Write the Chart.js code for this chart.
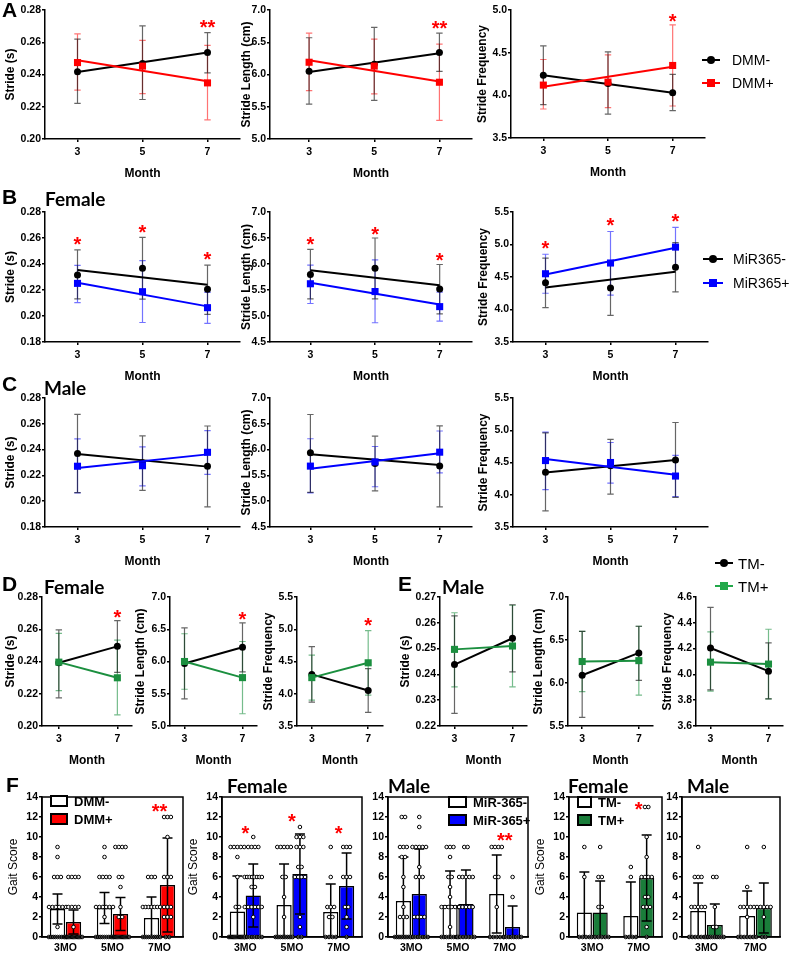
<!DOCTYPE html>
<html>
<head>
<meta charset="utf-8">
<script src="https://cdn.jsdelivr.net/npm/chart.js@4.4.1/dist/chart.umd.min.js"></script>
<style>
  body { margin: 0; width: 791px; height: 953px; position: relative; overflow: hidden; background: #fff;
         font-family: "Liberation Sans", Arial, sans-serif; color: #000; }
  canvas { position: absolute; }
  .t { position: absolute; transform: translateY(-50%); white-space: nowrap; line-height: 1; }
  .letter { font-weight: bold; font-size: 21px; }
  .grp { font-family: Lato, "Open Sans", sans-serif; font-weight: bold; font-size: 19px; }
  .mk { position: absolute; }
</style>
</head>
<body>
<script>
// ---------- data ----------
const MONTHS3 = [3, 5, 7];
const MONTHS2 = [3, 7];
const FIT_X = [3, 7];
const BAR_LABELS3 = ['3MO', '5MO', '7MO'];
const BAR_LABELS2 = ['3MO', '7MO'];

// A: DMM- / DMM+
const aStrideNeg = { mean: [0.2417, 0.2468, 0.2536], lo: [0.2221, 0.2245, 0.2410], hi: [0.2619, 0.2701, 0.2660], fit: [0.2415, 0.2537] };
const aStridePos = { mean: [0.2474, 0.2452, 0.2348], lo: [0.2303, 0.2282, 0.2118], hi: [0.2652, 0.2612, 0.2581], fit: [0.2489, 0.2358] };
const aLengthNeg = { mean: [6.05, 6.16, 6.34], lo: [5.54, 5.60, 6.05], hi: [6.57, 6.73, 6.64], fit: [6.04, 6.33] };
const aLengthPos = { mean: [6.19, 6.13, 5.88], lo: [5.75, 5.70, 5.29], hi: [6.64, 6.55, 6.47], fit: [6.22, 5.89] };
const aFreqNeg = { mean: [4.236, 4.14, 4.03], lo: [3.89, 3.78, 3.82], hi: [4.58, 4.51, 4.245], fit: [4.235, 4.03] };
const aFreqPos = { mean: [4.12, 4.155, 4.35], lo: [3.84, 3.855, 3.875], hi: [4.42, 4.475, 4.825], fit: [4.10, 4.335] };
const aStars = [[{ x: 7, y: 0.2715, t: '**' }], [{ x: 7, y: 6.78, t: '**' }], [{ x: 7, y: 4.91, t: '*' }]];

// B: female MiR365- / MiR365+
const bStrideNeg = { mean: [0.2315, 0.2367, 0.2205], lo: [0.2131, 0.2130, 0.2013], hi: [0.2508, 0.2605, 0.2392], fit: [0.2354, 0.2240] };
const bStridePos = { mean: [0.2251, 0.2187, 0.2064], lo: [0.2103, 0.1950, 0.1944], hi: [0.2390, 0.2426, 0.2182], fit: [0.2256, 0.2074] };
const bLengthNeg = { mean: [5.80, 5.92, 5.52], lo: [5.33, 5.33, 5.04], hi: [6.28, 6.50, 5.99], fit: [5.88, 5.59] };
const bLengthPos = { mean: [5.62, 5.47, 5.18], lo: [5.24, 4.87, 4.90], hi: [5.98, 6.08, 5.46], fit: [5.64, 5.22] };
const bFreqNeg = { mean: [4.41, 4.33, 4.65], lo: [4.03, 3.91, 4.27], hi: [4.79, 4.75, 5.03], fit: [4.34, 4.58] };
const bFreqPos = { mean: [4.55, 4.715, 4.96], lo: [4.25, 4.22, 4.65], hi: [4.85, 5.20, 5.265], fit: [4.54, 4.95] };
const bStars = [
  [{ x: 3, y: 0.2582, t: '*' }, { x: 5, y: 0.2672, t: '*' }, { x: 7, y: 0.2464, t: '*' }],
  [{ x: 3, y: 6.45, t: '*' }, { x: 5, y: 6.65, t: '*' }, { x: 7, y: 6.15, t: '*' }],
  [{ x: 3, y: 5.005, t: '*' }, { x: 5, y: 5.36, t: '*' }, { x: 7, y: 5.42, t: '*' }]
];

// C: male MiR365- / MiR365+
const cStrideNeg = { mean: [0.2369, 0.2299, 0.2270], lo: [0.2067, 0.2084, 0.1956], hi: [0.2673, 0.2506, 0.2583], fit: [0.2365, 0.2268] };
const cStridePos = { mean: [0.2271, 0.2275, 0.2379], lo: [0.2064, 0.2119, 0.2208], hi: [0.2483, 0.2421, 0.2547], fit: [0.2258, 0.2363] };
const cLengthNeg = { mean: [5.94, 5.73, 5.68], lo: [5.17, 5.20, 4.89], hi: [6.68, 6.26, 6.46], fit: [5.91, 5.70] };
const cLengthPos = { mean: [5.68, 5.76, 5.95], lo: [5.16, 5.28, 5.55], hi: [6.21, 6.06, 6.36], fit: [5.63, 5.93] };
const cFreqNeg = { mean: [4.35, 4.45, 4.54], lo: [3.75, 4.01, 3.96], hi: [4.96, 4.86, 5.12], fit: [4.345, 4.54] };
const cFreqPos = { mean: [4.53, 4.50, 4.29], lo: [4.08, 4.18, 3.97], hi: [4.97, 4.81, 4.61], fit: [4.555, 4.31] };

// D: female TM- / TM+
const dStrideNeg = { mean: [0.2392, 0.2494], lo: [0.2175, 0.2332], hi: [0.2596, 0.2654] };
const dStridePos = { mean: [0.2396, 0.2299], lo: [0.2220, 0.2069], hi: [0.2574, 0.2533] };
const dLengthNeg = { mean: [5.97, 6.22], lo: [5.42, 5.84], hi: [6.52, 6.60] };
const dLengthPos = { mean: [6.00, 5.75], lo: [5.57, 5.19], hi: [6.43, 6.31] };
const dFreqNeg = { mean: [4.30, 4.05], lo: [3.87, 3.71], hi: [4.73, 4.39] };
const dFreqPos = { mean: [4.25, 4.48], lo: [3.90, 3.98], hi: [4.60, 4.98] };
const dStars = [[{ x: 7, y: 0.2697, t: '*' }], [{ x: 7, y: 6.72, t: '*' }], [{ x: 7, y: 5.12, t: '*' }]];

// E: male TM- / TM+
const eStrideNeg = { mean: [0.2438, 0.2540], lo: [0.2249, 0.2410], hi: [0.2627, 0.2670] };
const eStridePos = { mean: [0.2497, 0.2510], lo: [0.2352, 0.2352], hi: [0.2639, 0.2668] };
const eLengthNeg = { mean: [6.09, 6.35], lo: [5.60, 6.03], hi: [6.60, 6.66] };
const eLengthPos = { mean: [6.25, 6.26], lo: [5.90, 5.86], hi: [6.60, 6.66] };
const eFreqNeg = { mean: [4.205, 4.025], lo: [3.88, 3.81], hi: [4.52, 4.245] };
const eFreqPos = { mean: [4.095, 4.08], lo: [3.87, 3.81], hi: [4.33, 4.35] };

// F: gait score (mean, SD, individual animals)
const fDmmNeg = { mean: [2.8, 2.9, 1.9], sd: [1.5, 1.55, 2.1], dots: [
  [9, 8, 6, 6, 6, 3, 3, 3, 3, 3, 3, 1, 0, 0, 0, 0, 0, 0, 0, 0, 0],
  [9, 8, 6, 6, 6, 6, 3, 3, 3, 3, 3, 3, 2, 0, 0, 0, 0, 0, 0, 0, 0, 0],
  [6, 6, 6, 3, 3, 3, 3, 3, 3, 3, 0, 0, 0, 0, 0, 0, 0, 0, 0, 0]] };
const fDmmPos = { mean: [1.5, 2.3, 5.2], sd: [1.2, 1.65, 4.7], dots: [
  [6, 6, 6, 6, 3, 3, 3, 3, 1, 0, 0, 0, 0, 0, 0, 0, 0, 0, 0, 0, 0, 0, 0, 0],
  [9, 9, 9, 9, 6, 6, 5, 3, 2, 2, 0, 0, 0, 0, 0, 0, 0, 0, 0, 0, 0, 0, 0, 0, 0, 0],
  [12, 12, 12, 10, 6, 6, 6, 3, 3, 3, 2, 2, 2, 0, 0]] };
const fMirFNeg = { mean: [2.55, 3.2, 2.5], sd: [3.55, 4.1, 2.8], dots: [
  [9, 9, 9, 9, 9, 8, 6, 3, 3, 0, 0, 0, 0, 0, 0, 0, 0, 0, 0, 0, 0, 0, 0, 0, 0],
  [9, 9, 9, 9, 9, 6, 6, 4, 2, 0, 0, 0, 0, 0, 0, 0, 0, 0, 0, 0],
  [9, 6, 3, 3, 3, 2, 2, 0, 0, 0, 0]] };
const fMirFPos = { mean: [4.15, 6.3, 5.1], sd: [3.15, 4.0, 3.3], dots: [
  [10, 9, 9, 9, 9, 6, 6, 6, 6, 6, 6, 6, 6, 5, 5, 3, 3, 3, 3, 3, 3, 2, 0, 0, 0, 0, 0, 0, 0, 0],
  [11, 10, 10, 10, 9, 9, 9, 7, 7, 6, 6, 6, 6, 2, 1, 0, 0],
  [9, 9, 9, 6, 6, 6, 3, 3, 2, 1, 0]] };
const fMirMNeg = { mean: [3.6, 3.2, 4.3], sd: [4.4, 3.4, 3.9], dots: [
  [12, 12, 9, 9, 9, 8, 8, 6, 5, 3, 2, 2, 2, 0, 0, 0, 0, 0, 0, 0, 0, 0, 0, 0],
  [9, 9, 9, 8, 6, 6, 5, 4, 3, 3, 3, 3, 3, 3, 1, 0, 0, 0, 0, 0, 0, 0, 0],
  [9, 9, 9, 9, 6, 6, 3, 0, 0, 0, 0, 0]] };
const fMirMPos = { mean: [4.3, 3.3, 1.0], sd: [4.5, 3.4, 2.1], dots: [
  [12, 11, 9, 9, 9, 9, 9, 7, 6, 6, 6, 2, 2, 2, 2, 0, 0, 0, 0, 0, 0, 0, 0],
  [9, 9, 6, 6, 6, 6, 6, 3, 3, 3, 3, 3, 0, 0, 0, 0, 0, 0, 0],
  [6, 4, 0, 0, 0, 0, 0, 0, 0, 0]] };
const fTmFNeg = { mean: [2.45, 2.1], sd: [4.05, 3.4], dots: [
  [9, 6, 0, 0, 0, 0],
  [7, 6, 0, 0, 0, 0]] };
const fTmFPos = { mean: [2.45, 5.9], sd: [3.15, 4.3], dots: [
  [9, 6, 6, 3, 3, 0, 0, 0, 0, 0, 0],
  [13, 13, 10, 8, 6, 6, 6, 6, 4, 4, 3, 3, 3, 1, 0]] };
const fTmMNeg = { mean: [2.6, 2.1], sd: [2.8, 2.5], dots: [
  [9, 6, 6, 6, 3, 3, 3, 3, 3, 0, 0, 0, 0, 0, 0, 0],
  [9, 5, 3, 3, 3, 3, 3, 2, 0, 0, 0, 0, 0, 0, 0]] };
const fTmMPos = { mean: [1.2, 2.9], sd: [2.1, 2.5], dots: [
  [6, 6, 3, 1, 1, 0, 0, 0, 0, 0, 0, 0, 0, 0],
  [9, 3, 3, 3, 3, 3, 2, 0, 0]] };
const fStars = [
  [{ x: 2, y: 13.0, t: '**' }],
  [{ x: 0, y: 10.8, t: '*' }, { x: 1, y: 12.0, t: '*' }, { x: 2, y: 10.8, t: '*' }],
  [{ x: 2, y: 10.1, t: '**' }],
  [{ x: 1, y: 13.2, t: '*' }],
  []
];

// ---------- styling ----------
const RED = '#ff0000', BLUE = '#0000ff', GREEN = '#1b8f3f', GREEN_BAR = '#1a7d3a', BLACK = '#000000';
const ERR_COLORS = { [RED]: 'rgba(255,0,0,0.55)', [BLUE]: 'rgba(0,0,255,0.55)', [GREEN]: 'rgba(27,143,63,0.6)', [BLACK]: 'rgba(0,0,0,0.6)' };
const FAMILY = '"Liberation Sans", Arial, sans-serif';
const tickFont = { family: FAMILY, size: 10.5, weight: 'bold' };
const titleFont = { family: FAMILY, size: 12, weight: 'bold' };
Chart.defaults.font.family = FAMILY;
Chart.defaults.color = '#000';

// ---------- plugins ----------
function drawErr(chart, opts) {
  const ctx = chart.ctx, ys = chart.scales.y;
  chart.data.datasets.forEach((ds, di) => {
    if (!ds.errHi) return;
    ctx.save();
    ctx.strokeStyle = ds.errColor || '#000';
    ctx.lineWidth = opts.width;
    chart.getDatasetMeta(di).data.forEach((el, i) => {
      const x = el.x;
      const yl = ys.getPixelForValue(ds.errLo[i]);
      const yh = ys.getPixelForValue(ds.errHi[i]);
      ctx.beginPath();
      ctx.moveTo(x, yl); ctx.lineTo(x, yh);
      ctx.moveTo(x - opts.cap, yh); ctx.lineTo(x + opts.cap, yh);
      if (ds.errLo[i] > ys.min) { ctx.moveTo(x - opts.cap, yl); ctx.lineTo(x + opts.cap, yl); }
      ctx.stroke();
    });
    ctx.restore();
  });
}
const errBarsPlugin = {
  id: 'errBars',
  beforeDatasetsDraw(chart, args, opts) { if (!opts.after) drawErr(chart, opts); },
  afterDatasetsDraw(chart, args, opts) { if (opts.after) drawErr(chart, opts); }
};

// individual animals, spread sideways where several share a score
const dotsPlugin = {
  id: 'dots',
  afterDatasetsDraw(chart) {
    const ctx = chart.ctx, ys = chart.scales.y;
    chart.data.datasets.forEach((ds, di) => {
      if (!ds.dots) return;
      chart.getDatasetMeta(di).data.forEach((bar, i) => {
        const counts = {};
        ds.dots[i].forEach(v => { counts[v] = (counts[v] || 0) + 1; });
        Object.keys(counts).forEach(k => {
          const n = counts[k];
          const span = Math.min((n - 1) * 3.4, bar.width + 2);
          const step = n > 1 ? span / (n - 1) : 0;
          const py = ys.getPixelForValue(+k);
          for (let j = 0; j < n; j++) {
            ctx.beginPath();
            ctx.arc(bar.x - span / 2 + j * step, py, 1.8, 0, Math.PI * 2);
            ctx.fillStyle = '#fff';
            ctx.fill();
            ctx.lineWidth = 1;
            ctx.strokeStyle = '#000';
            ctx.stroke();
          }
        });
      });
    });
  }
};

const starsPlugin = {
  id: 'stars',
  afterDatasetsDraw(chart, args, opts) {
    const ctx = chart.ctx;
    ctx.save();
    ctx.fillStyle = RED;
    ctx.font = 'bold 20px ' + FAMILY;
    ctx.textAlign = 'center';
    ctx.textBaseline = 'middle';
    (opts.list || []).forEach(s => {
      ctx.fillText(s.t, chart.scales.x.getPixelForValue(s.x), chart.scales.y.getPixelForValue(s.y) + 5);
    });
    ctx.restore();
  }
};

const framePlugin = {
  id: 'frame',
  afterDraw(chart) {
    const a = chart.chartArea, ctx = chart.ctx;
    ctx.save();
    ctx.strokeStyle = '#000';
    ctx.lineWidth = 1.5;
    ctx.strokeRect(a.left, a.top, a.right - a.left, a.bottom - a.top);
    ctx.restore();
  }
};

// ---------- helpers ----------
function place(left, top, w, h) {
  const c = document.createElement('canvas');
  c.width = w; c.height = h;
  c.style.left = left + 'px'; c.style.top = top + 'px';
  c.style.width = w + 'px'; c.style.height = h + 'px';
  document.body.appendChild(c);
  return c;
}

function text(x, y, s, cls, style) {
  const d = document.createElement('div');
  d.className = 't ' + (cls || '');
  d.style.left = x + 'px'; d.style.top = y + 'px';
  if (style) d.style.cssText += style;
  d.textContent = s;
  document.body.appendChild(d);
}

function mark(x, y, w, h, style) {
  const d = document.createElement('div');
  d.className = 'mk';
  d.style.cssText = `left:${x}px;top:${y}px;width:${w}px;height:${h}px;` + style;
  document.body.appendChild(d);
}

// line-with-marker legend entry
function lineLegend(x1, x2, y, color, shape, label, textX, size) {
  mark(x1, y - 1, x2 - x1, 2, `background:${color}`);
  const cx = (x1 + x2) / 2;
  mark(cx - 4, y - 4, 8, 8, `background:${color};` + (shape === 'circle' ? 'border-radius:50%' : ''));
  text(textX, y, label, '', `font-size:${size}px`);
}

// filled-box legend entry for the bar panels
function boxLegend(x, y, w, fill, label, textX) {
  mark(x, y - 6, w, 12, `box-sizing:border-box;border:2px solid #000;background:${fill}`);
  text(textX, y, label, '', 'font-size:13px;font-weight:bold');
}

function pair(neg, pos, months, color) {
  const sets = [];
  [[pos, color, 'rect', 5], [neg, BLACK, 'circle', 3.5]].forEach(([s, col, style, r]) => {
    if (s.fit) {
      sets.push({ data: FIT_X.map((m, i) => ({ x: m, y: s.fit[i] })), borderColor: col, borderWidth: 2, pointRadius: 0 });
    }
    sets.push({
      data: months.map((m, i) => ({ x: m, y: s.mean[i] })),
      showLine: !s.fit, borderColor: col, borderWidth: 2,
      pointStyle: style, pointRadius: r, pointBackgroundColor: col, pointBorderWidth: 0,
      errLo: s.lo, errHi: s.hi, errColor: ERR_COLORS[col]
    });
  });
  return sets;
}

const axisGrid = { display: true, drawOnChartArea: false, drawTicks: true, tickLength: 3, color: '#000', lineWidth: 1.5 };
const axisBorder = { display: true, color: '#000', width: 1.5 };

function lineChart(p) {
  const L = p.titleX - 10, T = p.top - 8, xH = 46;
  const W = p.right - L + 8, H = p.bottom - T + xH;
  new Chart(place(L, T, W, H), {
    type: 'line',
    data: { datasets: p.datasets },
    options: {
      responsive: false, animation: false, events: [],
      layout: { padding: { top: 8, right: 8, left: 0, bottom: 0 } },
      plugins: {
        legend: { display: false }, tooltip: { enabled: false },
        errBars: { cap: 3.2, width: 1.2, after: false },
        stars: { list: p.stars || [] }
      },
      scales: {
        x: {
          type: 'linear', min: p.xMin, max: p.xMax,
          afterBuildTicks: s => { s.ticks = p.months.map(v => ({ value: v })); },
          afterFit: s => { s.height = xH; },
          ticks: { font: tickFont, color: '#000', padding: 4 },
          grid: axisGrid, border: axisBorder,
          title: { display: true, text: 'Month', font: titleFont, color: '#000', padding: { top: 0, bottom: 4 } }
        },
        y: {
          min: p.yMin, max: p.yMax,
          afterFit: s => { s.width = p.axisX - L; },
          ticks: { stepSize: p.step, callback: v => v.toFixed(p.dec), font: tickFont, color: '#000', padding: 1 },
          grid: axisGrid, border: axisBorder,
          title: { display: true, text: p.yTitle, font: titleFont, color: '#000', padding: { top: 3, bottom: 0 } }
        }
      }
    },
    plugins: [errBarsPlugin, starsPlugin]
  });
}

function barSet(s, fill) {
  return {
    data: s.mean, backgroundColor: fill, borderColor: '#000', borderWidth: 1.5,
    categoryPercentage: 0.68, barPercentage: 0.96,
    errLo: s.mean.map((m, i) => Math.max(0, m - s.sd[i])),
    errHi: s.mean.map((m, i) => m + s.sd[i]),
    errColor: '#000', dots: s.dots
  };
}

function barChart(p) {
  const L = p.axisX - p.yW, T = p.top - 8, xH = 16;
  const W = p.right - L + 4, H = p.bottom - T + xH;
  new Chart(place(L, T, W, H), {
    type: 'bar',
    data: { labels: p.labels, datasets: [barSet(p.neg, '#fff'), barSet(p.pos, p.color)] },
    options: {
      responsive: false, animation: false, events: [],
      layout: { padding: { top: 8, right: 4, left: 0, bottom: 0 } },
      plugins: {
        legend: { display: false }, tooltip: { enabled: false },
        errBars: { cap: 5, width: 1.5, after: true },
        stars: { list: p.stars }
      },
      scales: {
        x: {
          afterFit: s => { s.height = xH; },
          grid: { display: false, drawTicks: false }, border: axisBorder,
          ticks: { font: tickFont, color: '#000', padding: 5 }
        },
        y: {
          min: 0, max: 14,
          afterFit: s => { s.width = p.yW; },
          ticks: { stepSize: 2, font: tickFont, color: '#000', padding: 1 },
          grid: axisGrid, border: axisBorder,
          title: { display: !!p.yTitle, text: p.yTitle || '', font: { family: FAMILY, size: 12 }, color: '#000', padding: { top: 3, bottom: 0 } }
        }
      }
    },
    plugins: [errBarsPlugin, dotsPlugin, starsPlugin, framePlugin]
  });
}

// ---------- row A ----------
lineChart({ axisX: 45, right: 240, top: 10, bottom: 139, titleX: 10, xMin: 2, xMax: 8, yMin: 0.20, yMax: 0.28, step: 0.02, dec: 2,
  yTitle: 'Stride (s)', months: MONTHS3, datasets: pair(aStrideNeg, aStridePos, MONTHS3, RED), stars: aStars[0] });
lineChart({ axisX: 270, right: 472, top: 10, bottom: 139, titleX: 246, xMin: 1.8, xMax: 8, yMin: 5.0, yMax: 7.0, step: 0.5, dec: 1,
  yTitle: 'Stride Length (cm)', months: MONTHS3, datasets: pair(aLengthNeg, aLengthPos, MONTHS3, RED), stars: aStars[1] });
lineChart({ axisX: 511, right: 705, top: 10, bottom: 138, titleX: 482, xMin: 2, xMax: 8, yMin: 3.5, yMax: 5.0, step: 0.5, dec: 1,
  yTitle: 'Stride Frequency', months: MONTHS3, datasets: pair(aFreqNeg, aFreqPos, MONTHS3, RED), stars: aStars[2] });

// ---------- row B ----------
lineChart({ axisX: 45, right: 240, top: 212, bottom: 342, titleX: 10, xMin: 2, xMax: 8, yMin: 0.18, yMax: 0.28, step: 0.02, dec: 2,
  yTitle: 'Stride (s)', months: MONTHS3, datasets: pair(bStrideNeg, bStridePos, MONTHS3, BLUE), stars: bStars[0] });
lineChart({ axisX: 270, right: 472, top: 212, bottom: 342, titleX: 246, xMin: 1.75, xMax: 8, yMin: 4.5, yMax: 7.0, step: 0.5, dec: 1,
  yTitle: 'Stride Length (cm)', months: MONTHS3, datasets: pair(bLengthNeg, bLengthPos, MONTHS3, BLUE), stars: bStars[1] });
lineChart({ axisX: 513, right: 708, top: 212, bottom: 342, titleX: 483, xMin: 2, xMax: 8, yMin: 3.5, yMax: 5.5, step: 0.5, dec: 1,
  yTitle: 'Stride Frequency', months: MONTHS3, datasets: pair(bFreqNeg, bFreqPos, MONTHS3, BLUE), stars: bStars[2] });

// ---------- row C ----------
lineChart({ axisX: 45, right: 240, top: 398, bottom: 527, titleX: 10, xMin: 2, xMax: 8, yMin: 0.18, yMax: 0.28, step: 0.02, dec: 2,
  yTitle: 'Stride (s)', months: MONTHS3, datasets: pair(cStrideNeg, cStridePos, MONTHS3, BLUE) });
lineChart({ axisX: 270, right: 472, top: 398, bottom: 527, titleX: 246, xMin: 1.75, xMax: 8, yMin: 4.5, yMax: 7.0, step: 0.5, dec: 1,
  yTitle: 'Stride Length (cm)', months: MONTHS3, datasets: pair(cLengthNeg, cLengthPos, MONTHS3, BLUE) });
lineChart({ axisX: 513, right: 708, top: 398, bottom: 527, titleX: 483, xMin: 2, xMax: 8, yMin: 3.5, yMax: 5.5, step: 0.5, dec: 1,
  yTitle: 'Stride Frequency', months: MONTHS3, datasets: pair(cFreqNeg, cFreqPos, MONTHS3, BLUE) });

// ---------- row D / E ----------
lineChart({ axisX: 42, right: 132, top: 597, bottom: 726, titleX: 10, xMin: 1.85, xMax: 8, yMin: 0.20, yMax: 0.28, step: 0.02, dec: 2,
  yTitle: 'Stride (s)', months: MONTHS2, datasets: pair(dStrideNeg, dStridePos, MONTHS2, GREEN), stars: dStars[0] });
lineChart({ axisX: 170, right: 257, top: 597, bottom: 726, titleX: 140, xMin: 2, xMax: 8, yMin: 5.0, yMax: 7.0, step: 0.5, dec: 1,
  yTitle: 'Stride Length (cm)', months: MONTHS2, datasets: pair(dLengthNeg, dLengthPos, MONTHS2, GREEN), stars: dStars[1] });
lineChart({ axisX: 297, right: 383, top: 597, bottom: 726, titleX: 268, xMin: 1.95, xMax: 8.05, yMin: 3.5, yMax: 5.5, step: 0.5, dec: 1,
  yTitle: 'Stride Frequency', months: MONTHS2, datasets: pair(dFreqNeg, dFreqPos, MONTHS2, GREEN), stars: dStars[2] });
lineChart({ axisX: 440, right: 527, top: 597, bottom: 726, titleX: 405, xMin: 2, xMax: 8, yMin: 0.22, yMax: 0.27, step: 0.01, dec: 2,
  yTitle: 'Stride (s)', months: MONTHS2, datasets: pair(eStrideNeg, eStridePos, MONTHS2, GREEN) });
lineChart({ axisX: 568, right: 653, top: 597, bottom: 726, titleX: 538, xMin: 2, xMax: 8, yMin: 5.5, yMax: 7.0, step: 0.5, dec: 1,
  yTitle: 'Stride Length (cm)', months: MONTHS2, datasets: pair(eLengthNeg, eLengthPos, MONTHS2, GREEN) });
lineChart({ axisX: 696, right: 783, top: 597, bottom: 726, titleX: 667, xMin: 2, xMax: 8, yMin: 3.6, yMax: 4.6, step: 0.2, dec: 1,
  yTitle: 'Stride Frequency', months: MONTHS2, datasets: pair(eFreqNeg, eFreqPos, MONTHS2, GREEN) });

// ---------- row F ----------
barChart({ axisX: 42, right: 183, top: 797, bottom: 937, yW: 39, yTitle: 'Gait Score', labels: BAR_LABELS3,
  neg: fDmmNeg, pos: fDmmPos, color: RED, stars: fStars[0] });
barChart({ axisX: 222, right: 362, top: 797, bottom: 937, yW: 39, yTitle: 'Gait Score', labels: BAR_LABELS3,
  neg: fMirFNeg, pos: fMirFPos, color: BLUE, stars: fStars[1] });
barChart({ axisX: 388, right: 528, top: 797, bottom: 937, yW: 25, labels: BAR_LABELS3,
  neg: fMirMNeg, pos: fMirMPos, color: BLUE, stars: fStars[2] });
barChart({ axisX: 569, right: 662, top: 797, bottom: 937, yW: 39, yTitle: 'Gait Score', labels: BAR_LABELS2,
  neg: fTmFNeg, pos: fTmFPos, color: GREEN_BAR, stars: fStars[3] });
barChart({ axisX: 682, right: 780, top: 797, bottom: 937, yW: 25, labels: BAR_LABELS2,
  neg: fTmMNeg, pos: fTmMPos, color: GREEN_BAR, stars: fStars[4] });

// ---------- labels and legends ----------
text(2, 9, 'A', 'letter');
text(2, 196, 'B', 'letter');
text(45, 198, 'Female', 'grp');
text(2, 383, 'C', 'letter');
text(44, 387, 'Male', 'grp');
text(2, 583, 'D', 'letter');
text(44, 586, 'Female', 'grp');
text(398, 583, 'E', 'letter');
text(442, 586, 'Male', 'grp');
text(6, 784, 'F', 'letter');
text(227, 785, 'Female', 'grp');
text(388, 785, 'Male', 'grp');
text(568, 785, 'Female', 'grp');
text(687, 785, 'Male', 'grp');

lineLegend(702, 720, 60, BLACK, 'circle', 'DMM-', 732, 14);
lineLegend(702, 720, 83, RED, 'rect', 'DMM+', 732, 14);
lineLegend(703, 723, 259, BLACK, 'circle', 'MiR365-', 733, 14);
lineLegend(703, 723, 283, BLUE, 'rect', 'MiR365+', 733, 14);
lineLegend(715, 733, 563, BLACK, 'circle', 'TM-', 738, 15);
lineLegend(715, 733, 586, '#22a84a', 'rect', 'TM+', 738, 15);

boxLegend(50, 801, 18, '#fff', 'DMM-', 74);
boxLegend(50, 819, 18, RED, 'DMM+', 74);
boxLegend(448, 802, 19, '#fff', 'MiR-365-', 473);
boxLegend(448, 820, 19, BLUE, 'MiR-365+', 473);
boxLegend(577, 802, 15, '#fff', 'TM-', 598);
boxLegend(577, 820, 15, GREEN_BAR, 'TM+', 598);
</script>
</body>
</html>
